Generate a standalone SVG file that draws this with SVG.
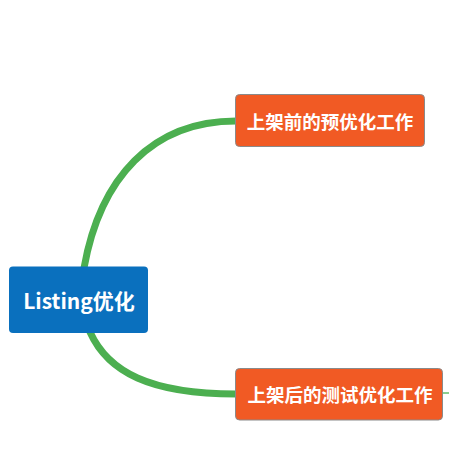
<svg xmlns="http://www.w3.org/2000/svg" width="449" height="468" viewBox="0 0 449 468">
<style>
.link{fill:none;stroke:#4CAF50;stroke-width:7;stroke-linecap:round}
.sub{fill:#F15A24;stroke:#8a8a8a;stroke-width:1}
.t{fill:#fff;font-family:"Noto Sans CJK SC","Noto Sans",sans-serif;font-weight:bold;text-anchor:middle;dominant-baseline:central}
</style>
<rect width="449" height="468" fill="#fff"/>
<g id="connectors">
<path class="link" d="M84,268 C100,178 152,121 236,121"/>
<path class="link" d="M90,332 C108,372 150,394 236,394"/>
<path d="M443,393 L449,393" stroke="#3cb043" stroke-width="1.2" fill="none"/>
</g>
<g id="root">
<rect x="9" y="266.5" width="139" height="66.5" rx="4" fill="#0A70BE"/>
<text class="t" x="79" y="300" font-size="21">Listing优化</text>
</g>
<g id="node1">
<rect class="sub" x="235.5" y="94.5" width="189" height="52" rx="4"/>
<text class="t" x="330" y="121" font-size="18.5">上架前的预优化工作</text>
</g>
<g id="node2">
<rect class="sub" x="235.5" y="368.5" width="207" height="51.5" rx="4" stroke="#f5a080"/>
<text class="t" x="340" y="394" font-size="18.5">上架后的测试优化工作</text>
</g>
</svg>
